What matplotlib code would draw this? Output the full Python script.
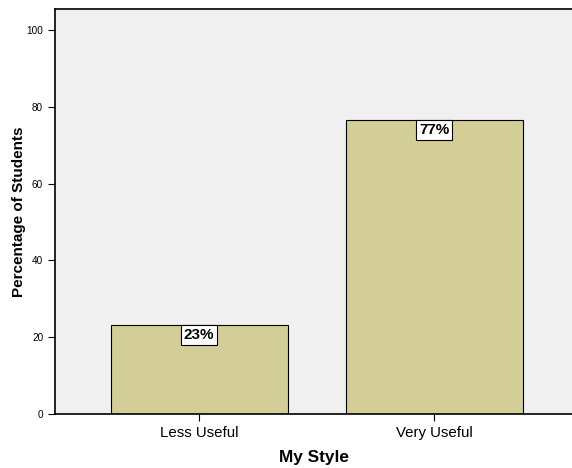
import matplotlib
matplotlib.use('Agg')
import matplotlib.pyplot as plt

plt.rcParams['font.family'] = ['Liberation Sans', 'DejaVu Sans']

categories = ['Less Useful', 'Very Useful']
percents = [23.3, 76.7]
labels = ['23%', '77%']

fig = plt.figure(figsize=(5.72, 4.68), dpi=100)
ax = fig.add_axes([0.0962, 0.1154, 0.9038, 0.8654])
ax.set_facecolor('#f0f0f0')

x = list(range(len(categories)))
bars = ax.bar(x, percents, width=0.753, color='#d3ce97', edgecolor='black', linewidth=0.8)

for b, lab in zip(bars, labels):
    ax.annotate(lab, (b.get_x() + b.get_width() / 2, b.get_height()),
                xytext=(0, -2.5), textcoords='offset points',
                ha='center', va='top', fontsize=11, fontweight='bold',
                bbox=dict(boxstyle='square,pad=0.2', fc='white', ec='black', lw=0.8))

ax.set_xlim(-0.613, 1.587)
ax.set_ylim(0, 105.5)
ax.set_yticks([0, 20, 40, 60, 80, 100])
ax.set_xticks(x)
ax.set_xticklabels(categories, fontsize=10.8)
ax.tick_params(axis='y', labelsize=7.2, length=5, width=0.8)
ax.tick_params(axis='x', length=5, width=0.8, pad=4)
ax.set_ylabel('Percentage of Students', fontsize=11, fontweight='bold', labelpad=0)
ax.set_xlabel('My Style', fontsize=12.4, fontweight='bold', labelpad=7)

for s in ['left', 'bottom', 'top']:
    ax.spines[s].set_linewidth(1.2)
ax.spines['right'].set_visible(False)

fig.savefig('out.png', dpi=100)
